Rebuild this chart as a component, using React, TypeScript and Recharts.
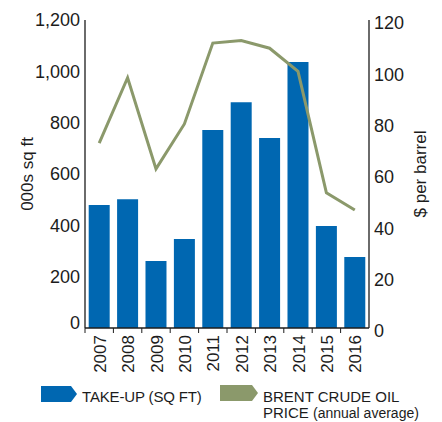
import { Bar, ComposedChart, Legend, Line, XAxis, YAxis } from 'recharts';

const years = ['2007', '2008', '2009', '2010', '2011', '2012', '2013', '2014', '2015', '2016'];
const takeUp = [479, 502, 261, 347, 771, 880, 740, 1036, 397, 277];
const brentPrice = [72, 97.5, 62, 79.5, 111, 112, 109, 100, 52.7, 46];
const leftTicks = [0, 200, 400, 600, 800, 1000, 1200];
const rightTicks = [0, 20, 40, 60, 80, 100, 120];

const BLUE = '#0067b1';
const OLIVE = '#8b996b';
const INK = '#1c1c1c';
const FONT = '"Liberation Sans", Arial, sans-serif';

const data = years.map((year, i) => ({ year, takeUp: takeUp[i], brent: brentPrice[i] }));

function YearTick(props: any) {
  const { x, y, payload } = props;
  const half = payload?.offset || 14.2;
  return (
    <g>
      <line x1={x - half} y1={y} x2={x - half} y2={y + 5} stroke={INK} strokeWidth={1} />
      <text
        x={x + 6.5}
        y={y + 7}
        transform={`rotate(-90 ${x + 6.5} ${y + 7})`}
        textAnchor="end"
        fontSize={17}
        fontFamily={FONT}
        fill={INK}
      >
        {payload.value}
      </text>
    </g>
  );
}

function LeftTick(props: any) {
  const { x, y, payload } = props;
  const shift = payload.value === 0 ? -5 : 0;
  return (
    <text x={x} y={y + shift} dy="0.36em" textAnchor="end" fontSize={18} fontFamily={FONT} fill={INK}>
      {payload.value.toLocaleString('en-US')}
    </text>
  );
}

function RightTick(props: any) {
  const { x, y, payload } = props;
  return (
    <text x={x} y={y + 3} dy="0.36em" textAnchor="start" fontSize={18} fontFamily={FONT} fill={INK}>
      {payload.value}
    </text>
  );
}

function axisTitle(text: string, dx: number) {
  return (props: any) => {
    const vb = props.viewBox || { x: 0 };
    const cx = vb.x + dx;
    const cy = 174;
    return (
      <text
        x={cx}
        y={cy}
        transform={`rotate(-90 ${cx} ${cy})`}
        textAnchor="middle"
        dominantBaseline="central"
        fontSize={17}
        fontFamily={FONT}
        fill={INK}
      >
        {text}
      </text>
    );
  };
}

function ChartLegend() {
  return (
    <svg width={442} height={42} style={{ display: 'block' }}>
      <polygon points="41,6 71,6 77,14 71,22 41,22" fill={BLUE} />
      <text x={82} y={21.7} fontSize={15} letterSpacing={-0.15} fontFamily={FONT} fill={INK}>
        TAKE-UP (SQ FT)
      </text>
      <polygon points="220,5 252,5 258,13 252,21 220,21" fill={OLIVE} />
      <text x={263} y={21.5} fontSize={15} fontFamily={FONT} fill={INK}>
        BRENT CRUDE OIL
      </text>
      <text x={263} y={38} fontSize={15} fontFamily={FONT} fill={INK}>
        PRICE <tspan fontSize={14}>(annual average)</tspan>
      </text>
    </svg>
  );
}

export default function App() {
  return (
    <div style={{ position: 'absolute', left: 0, top: 0, background: '#fff' }}>
      <ComposedChart
        width={442}
        height={422}
        data={data}
        margin={{ top: 20, right: 0, bottom: 0, left: 0 }}
        barCategoryGap="13%"
      >
        <XAxis
          dataKey="year"
          interval={0}
          height={52}
          tickLine={false}
          tickSize={0}
          tickMargin={0}
          tick={<YearTick />}
          axisLine={{ stroke: INK, strokeWidth: 1.3 }}
        />
        <YAxis
          yAxisId="left"
          orientation="left"
          width={85}
          domain={[0, 1200]}
          ticks={leftTicks}
          tickLine={false}
          tickSize={5}
          tickMargin={0}
          tick={<LeftTick />}
          axisLine={{ stroke: INK, strokeWidth: 1.3 }}
          label={{ content: axisTitle('000s sq ft', 27) }}
        />
        <YAxis
          yAxisId="right"
          orientation="right"
          width={73}
          domain={[0, 120]}
          ticks={rightTicks}
          tickLine={false}
          tickSize={5}
          tickMargin={0}
          tick={<RightTick />}
          axisLine={{ stroke: INK, strokeWidth: 1.3 }}
          label={{ content: axisTitle('$ per barrel', 51) }}
        />
        <Bar yAxisId="left" dataKey="takeUp" name="TAKE-UP (SQ FT)" fill={BLUE} isAnimationActive={false} />
        <Line
          yAxisId="right"
          type="linear"
          dataKey="brent"
          name="BRENT CRUDE OIL PRICE (annual average)"
          stroke={OLIVE}
          strokeWidth={3}
          dot={false}
          activeDot={false}
          isAnimationActive={false}
        />
        <Legend verticalAlign="bottom" height={42} content={() => <ChartLegend />} />
      </ComposedChart>
    </div>
  );
}
